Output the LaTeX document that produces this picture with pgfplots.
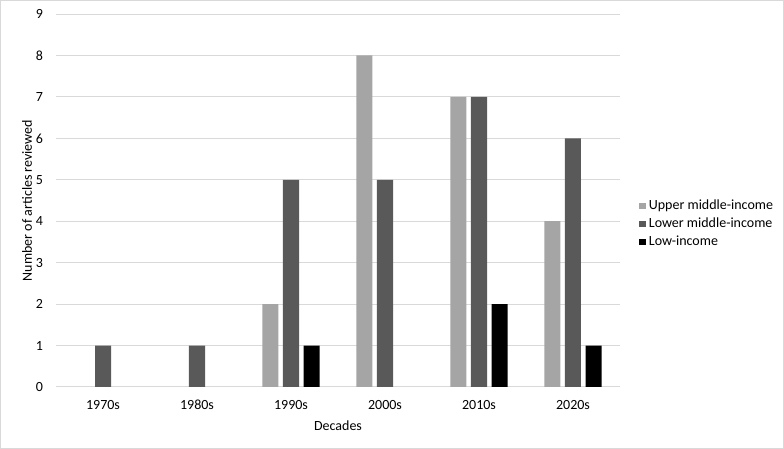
\documentclass[border=0pt]{standalone}
\usepackage{pgfplots}
\pgfplotsset{compat=1.18}
\usepackage{fontspec}
\setmainfont{Carlito}
\definecolor{upper}{HTML}{A5A5A5}
\definecolor{lower}{HTML}{595959}
\definecolor{low}{HTML}{000000}
\definecolor{gridc}{HTML}{D9D9D9}
\begin{document}
\begin{tikzpicture}
\useasboundingbox (0,0) rectangle (588pt,336.75pt);
\draw[gridc, line width=0.75pt] (0.6pt,0.6pt) rectangle (587.4pt,336.15pt);
\begin{axis}[
  at={(42pt,46.5pt)}, anchor=south west,
  scale only axis, width=423pt, height=279.75pt,
  ybar=3.4pt, bar width=12pt,
  xmin=-0.5, xmax=5.5, ymin=0, ymax=9,
  xtick={0,1,2,3,4,5},
  xticklabels={1970s,1980s,1990s,2000s,2010s,2020s},
  ytick={0,1,...,9},
  major tick length=0pt,
  axis line style={draw=none},
  ymajorgrids, grid style={gridc, line width=0.75pt},
  /pgf/number format/assume math mode=true,
  tick label style={font=\fontsize{10.5}{12.5}\selectfont, text=black},
  yticklabel style={xshift=-6.2pt},
  xticklabel style={yshift=-5.8pt, text height=7.5pt, text depth=0pt},
  xlabel={Decades},
  ylabel={Number of articles reviewed},
  label style={font=\fontsize{10.5}{12.5}\selectfont},
  xlabel style={at={(axis description cs:0.5,0)}, anchor=center, yshift=-29.25pt},
  ylabel style={at={(axis description cs:-0.0514,0.5)}, anchor=center},
  legend image code/.code={\fill[#1] (0pt,-2.5pt) rectangle (5pt,2.5pt);},
  legend style={at={(axis description cs:1.0337,0.437)}, anchor=west,
    draw=none, fill=none, inner sep=0pt, row sep=4.8pt,
    font=\fontsize{10.5}{12.5}\selectfont,
    nodes={inner xsep=2.2pt, inner ysep=0pt}},
  legend cell align=left,
]
\addplot[fill=upper, draw=none] coordinates {(2,2) (3,8) (4,7) (5,4)};
\addplot[fill=lower, draw=none] coordinates {(0,1) (1,1) (2,5) (3,5) (4,7) (5,6)};
\addplot[fill=low, draw=none] coordinates {(2,1) (4,2) (5,1)};
\legend{Upper middle-income, Lower middle-income, Low-income}
\end{axis}
\end{tikzpicture}
\end{document}
